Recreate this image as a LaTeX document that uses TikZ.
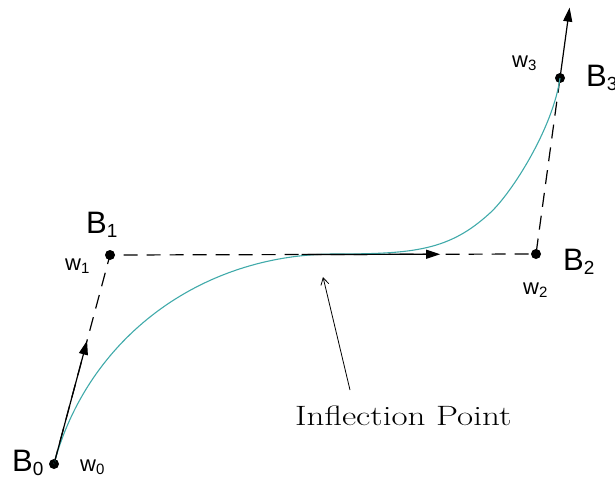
\documentclass[tikz,border=0pt]{standalone}
\usepackage{fontspec}
\usepackage{graphicx}
\setsansfont{Liberation Sans}
\usetikzlibrary{arrows.meta,calc}
\definecolor{curvecol}{RGB}{64,170,170}
\newcommand\blab[2]{B\raisebox{-4.5pt}{\fontsize{19}{19}\selectfont #2}}
\newcommand\wlab[1]{w\raisebox{-3pt}{\fontsize{15}{15}\selectfont #1}}
\begin{document}
\begin{tikzpicture}[x=1pt,y=-1pt,
  dot/.style={circle,fill=black,inner sep=0pt,minimum size=10pt},
  dsh/.style={line width=1.2pt,dash pattern=on 14pt off 9pt},
  vec/.style={line width=1.2pt,-{Triangle[length=14pt,width=9pt]}},
  big/.style={font=\sffamily\fontsize{31}{31}\selectfont,inner sep=0pt,anchor=base west},
  small/.style={font=\sffamily\fontsize{22}{22}\selectfont,inner sep=0pt,anchor=base west}]
\useasboundingbox (0,0) rectangle (615,479);
\node[dot] (B0) at (54,464) {};
\node[dot] (B1) at (110,255) {};
\node[dot] (B2) at (536,254) {};
\node[dot] (B3) at (560,78) {};
\coordinate (t0) at ($(B0.center)!0.59!(B1.center)$);
\coordinate (h0) at ($(B1.center)!0.45!(B2.center)$);
\coordinate (h1) at ($(B1.center)!0.775!(B2.center)$);
\coordinate (t3) at ($(B2.center)!1.4!(B3.center)$);
\coordinate (M) at (335,254);
\coordinate (P) at (490,213);
% dashed control polygon
\draw[dsh] (B0.center) -- (B1.center) -- (B2.center) -- (B3.center);
% curve
\draw[curvecol,line width=1.1pt] (B0.center)
  .. controls (87.6,338.6) and (200,254) .. (M)
  .. controls (415,254) and (449.5,250.2) .. (P)
  .. controls (512.1,192.7) and (553.2,127.5) .. (B3.center);
% tangent vectors
\draw[vec] (B0.center) -- (t0);
\draw[vec] (h0) -- (h1);
\draw[vec] (B3.center) -- (t3);
% labels
\node[big] (lB0) at (12,471) {\blab{B}{0}};
\node[big] (lB1) at (86,233) {\blab{B}{1}};
\node[big] (lB2) at (563,270) {\blab{B}{2}};
\node[big] (lB3) at (586,86) {\blab{B}{3}};
\node[small] (lw0) at (80,471) {\wlab{0}};
\node[small] (lw1) at (65,270) {\wlab{1}};
\node[small] (lw2) at (523,294) {\wlab{2}};
\node[small] (lw3) at (512,67) {\wlab{3}};
% inflection
\node[font=\fontsize{28}{28}\selectfont,inner sep=0pt,anchor=base west] (infl) at (295,425) {\scalebox{1.25}[1]{Inflection Point}};
\coordinate (ip) at (323,277);
\draw[line width=0.8pt,-{Straight Barb[length=7pt,width=8pt]}] (350,390) -- (ip);
\end{tikzpicture}
\end{document}
